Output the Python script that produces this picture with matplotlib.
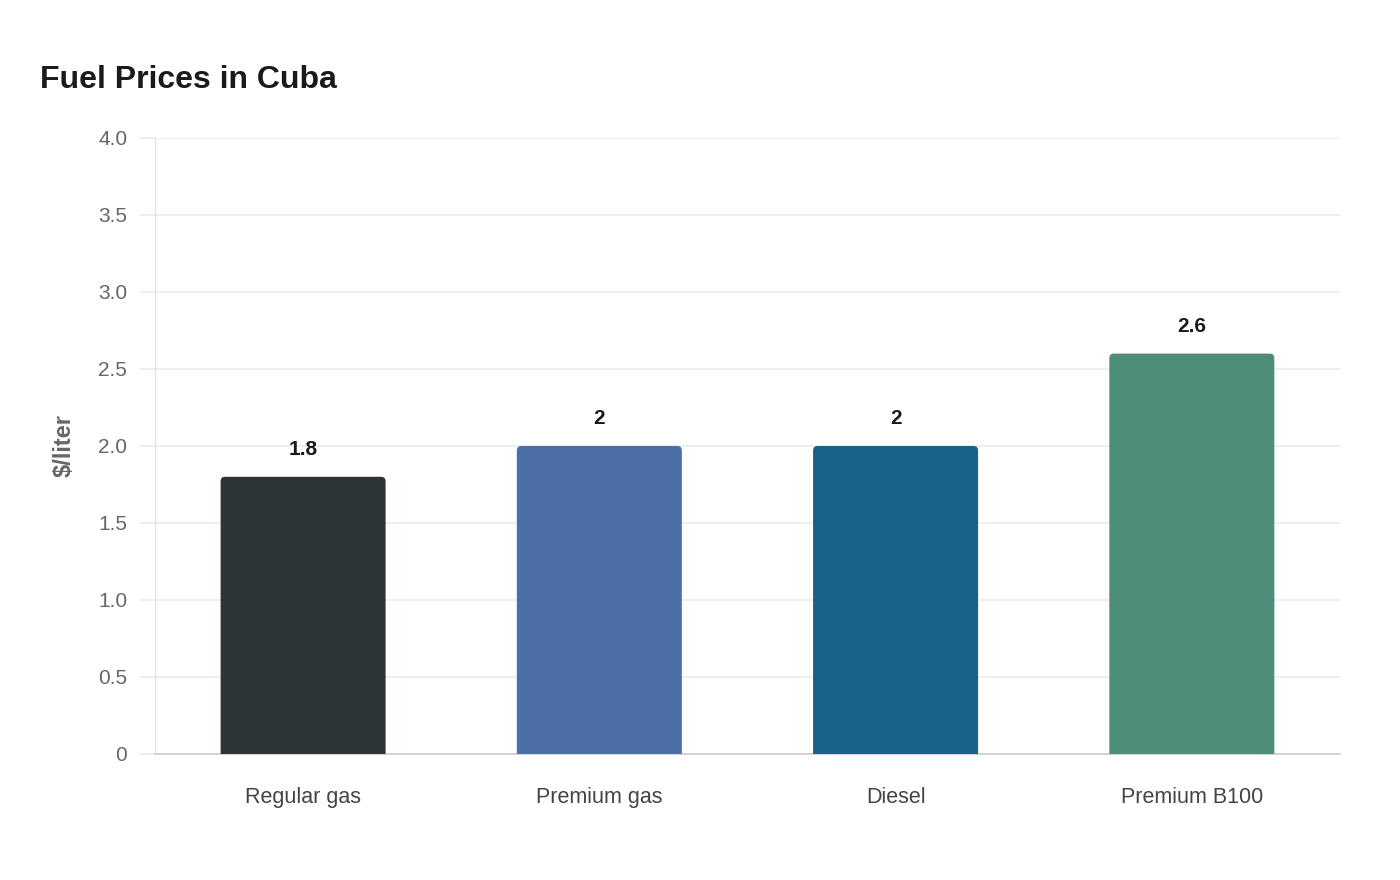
import matplotlib
matplotlib.use("Agg")
import matplotlib.pyplot as plt
from matplotlib.patches import FancyBboxPatch
import numpy as np

plt.rcParams['font.family'] = ['Liberation Sans', 'DejaVu Sans']

# datos
fuels = ['Regular gas', 'Premium gas', 'Diesel', 'Premium B100']
prices = [1.8, 2.0, 2.0, 2.6]
price_labels = ['1.8', '2', '2', '2.6']
colores = ['#2d3538', '#4a6fa5', '#186187', '#4f8d7b']
yticks = [0, 0.5, 1.0, 1.5, 2.0, 2.5, 3.0, 3.5, 4.0]
ytick_labels = ['0', '0.5', '1.0', '1.5', '2.0', '2.5', '3.0', '3.5', '4.0']

fig = plt.figure(figsize=(14, 8.8), dpi=100)
ax = fig.add_axes([0.1107, 0.1432, 0.8464, 0.7])

ax.set_xlim(-0.5, 3.5)
ax.set_ylim(0, 4.0)

x = np.arange(len(fuels))
barras = ax.bar(x, prices, width=0.557, color=colores, zorder=3)

# esquinas redondeadas arriba (la parte de abajo queda fuera del eje)
px_x = 1185 / 4.0   # pixeles por unidad en x
px_y = 616 / 4.0    # pixeles por unidad en y
for b in barras:
    bx, bw, bh = b.get_x(), b.get_width(), b.get_height()
    p = FancyBboxPatch((bx, -0.1), bw, bh + 0.1,
                       boxstyle='round,pad=0,rounding_size=%f' % (4.5 / px_x),
                       mutation_aspect=px_x / px_y,
                       facecolor=b.get_facecolor(), edgecolor='none',
                       zorder=3, clip_on=True)
    ax.add_patch(p)
    b.remove()

for xi, v, lab in zip(x, prices, price_labels):
    ax.annotate(lab, (xi, v), xytext=(0, 27), textcoords='offset pixels',
                ha='center', va='center', fontsize=15, fontweight='bold',
                color='#1a1a1a')

ax.set_yticks(yticks)
ax.set_yticklabels(ytick_labels)
ax.set_xticks(x)
ax.set_xticklabels(fuels)

ax.grid(axis='y', color='#ebebeb', linewidth=1.2, zorder=0)
ax.tick_params(axis='y', length=11, color='#ebebeb', width=1.2, pad=9,
               labelsize=15, labelcolor='#666666')
ax.tick_params(axis='x', length=0, pad=24, labelsize=15.5, labelcolor='#444444')

for s in ['top', 'right']:
    ax.spines[s].set_visible(False)
ax.spines['left'].set_color('#e0e0e0')
ax.spines['bottom'].set_color('#cccccc')
ax.spines['bottom'].set_linewidth(1.2)

ax.set_ylabel('$/liter', fontsize=17, fontweight='bold', color='#666666',
              labelpad=16)

fig.text(40 / 1400, 1 - 80 / 880, 'Fuel Prices in Cuba', fontsize=23,
         fontweight='bold', color='#1a1a1a', ha='left', va='center')

plt.savefig('out.png', dpi=100)
